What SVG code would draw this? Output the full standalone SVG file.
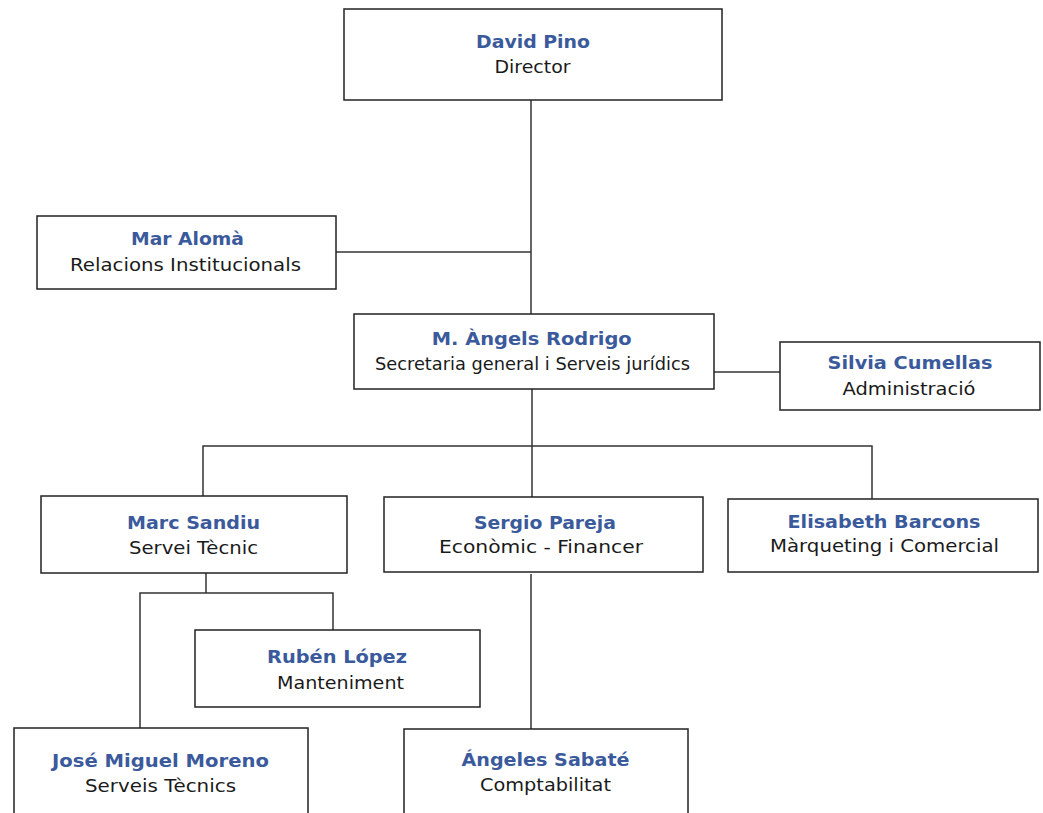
<svg xmlns="http://www.w3.org/2000/svg" width="1043" height="813" viewBox="0 0 1043 813">
<style>
rect{fill:#fff;stroke:#222;stroke-width:1.5}
.n{font-family:"DejaVu Sans",Verdana,sans-serif;font-size:17.5px;font-weight:bold;fill:#3A5A9C;text-anchor:middle}
.r{font-family:"DejaVu Sans",Verdana,sans-serif;font-size:18px;fill:#1a1a1a;text-anchor:middle}
#connectors path{fill:none;stroke:#333;stroke-width:1.5}
</style>
<rect x="0" y="0" width="1043" height="813" style="fill:#fff;stroke:none"/>
<g id="connectors">
<path d="M531,100 V314"/>
<path d="M336,252 H531"/>
<path d="M714,372 H780"/>
<path d="M532,389 V497"/>
<path d="M203,496 V446 H872 V499"/>
<path d="M206,573 V593"/>
<path d="M140,728 V593 H333 V630"/>
<path d="M531,574 V729"/>
</g>
<g id="david"><rect x="344" y="9" width="378" height="91"/><text class="n" x="533" y="48" textLength="114" lengthAdjust="spacingAndGlyphs">David Pino</text><text class="r" x="532.5" y="73" textLength="76" lengthAdjust="spacingAndGlyphs">Director</text></g>
<g id="mar"><rect x="37" y="216" width="299" height="73"/><text class="n" x="187.5" y="245" textLength="113" lengthAdjust="spacingAndGlyphs">Mar Alomà</text><text class="r" x="185.5" y="271" textLength="231" lengthAdjust="spacingAndGlyphs">Relacions Institucionals</text></g>
<g id="angels"><rect x="354" y="314" width="360" height="75"/><text class="n" x="531.7" y="345" textLength="200" lengthAdjust="spacingAndGlyphs">M. Àngels Rodrigo</text><text class="r" x="532.5" y="370" textLength="315" lengthAdjust="spacingAndGlyphs">Secretaria general i Serveis jurídics</text></g>
<g id="silvia"><rect x="780" y="342" width="260" height="68"/><text class="n" x="910" y="369" textLength="165" lengthAdjust="spacingAndGlyphs">Silvia Cumellas</text><text class="r" x="909" y="395" textLength="133" lengthAdjust="spacingAndGlyphs">Administració</text></g>
<g id="marc"><rect x="41" y="496" width="306" height="77"/><text class="n" x="193.5" y="529" textLength="133" lengthAdjust="spacingAndGlyphs">Marc Sandiu</text><text class="r" x="193.5" y="554" textLength="129" lengthAdjust="spacingAndGlyphs">Servei Tècnic</text></g>
<g id="sergio"><rect x="384" y="497" width="319" height="75"/><text class="n" x="545" y="529" textLength="142" lengthAdjust="spacingAndGlyphs">Sergio Pareja</text><text class="r" x="541" y="553" textLength="204" lengthAdjust="spacingAndGlyphs">Econòmic - Financer</text></g>
<g id="elisabeth"><rect x="728" y="499" width="310" height="73"/><text class="n" x="884" y="527.5" textLength="193" lengthAdjust="spacingAndGlyphs">Elisabeth Barcons</text><text class="r" x="884.5" y="552" textLength="229" lengthAdjust="spacingAndGlyphs">Màrqueting i Comercial</text></g>
<g id="ruben"><rect x="195" y="630" width="285" height="77"/><text class="n" x="337" y="663" textLength="140" lengthAdjust="spacingAndGlyphs">Rubén López</text><text class="r" x="340.5" y="689" textLength="127" lengthAdjust="spacingAndGlyphs">Manteniment</text></g>
<g id="jose"><rect x="14" y="728" width="294" height="95"/><text class="n" x="160.5" y="767" textLength="217" lengthAdjust="spacingAndGlyphs">José Miguel Moreno</text><text class="r" x="160.5" y="792" textLength="151" lengthAdjust="spacingAndGlyphs">Serveis Tècnics</text></g>
<g id="sabate"><rect x="404" y="729" width="284" height="95"/><text class="n" x="545.5" y="766" textLength="168" lengthAdjust="spacingAndGlyphs">Ángeles Sabaté</text><text class="r" x="545.5" y="791" textLength="131" lengthAdjust="spacingAndGlyphs">Comptabilitat</text></g>
</svg>
